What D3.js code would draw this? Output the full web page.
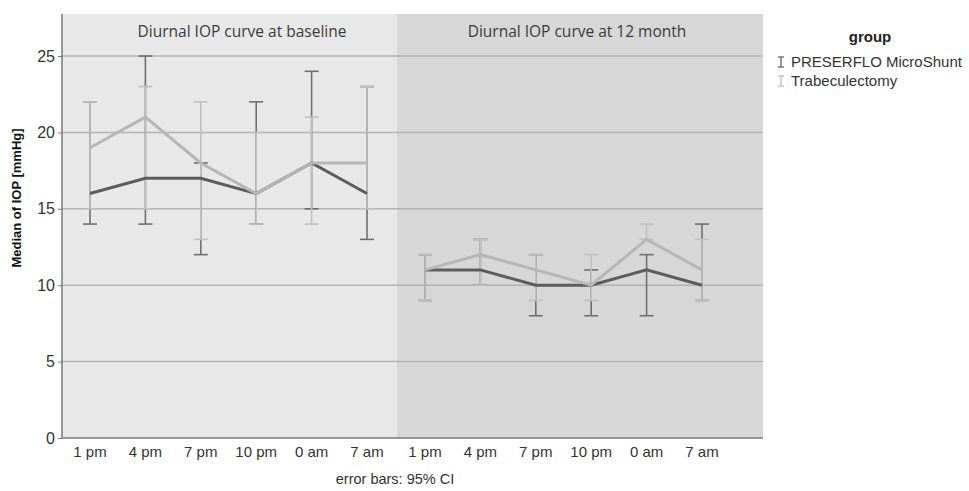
<!DOCTYPE html>
<html>
<head>
<meta charset="utf-8">
<script src="https://cdn.jsdelivr.net/npm/d3@7"></script>
<style>
  body { margin: 0; background: #ffffff; }
  svg { display: block; }
</style>
</head>
<body>
<svg id="chart" width="969" height="491"></svg>
<script>
// ---------- data ----------
const timepoints = ["1 pm", "4 pm", "7 pm", "10 pm", "0 am", "7 am"];
const panelTitles = ["Diurnal IOP curve at baseline", "Diurnal IOP curve at 12 month"];
const groups = ["PRESERFLO MicroShunt", "Trabeculectomy"];
const yTicks = [0, 5, 10, 15, 20, 25];

// medians
const microBaseline = [16, 17, 17, 16, 18, 16];
const trabBaseline  = [19, 21, 18, 16, 18, 18];
const micro12m      = [11, 11, 10, 10, 11, 10];
const trab12m       = [11, 12, 11, 10, 13, 11];

// 95% CI lower / upper
const microBaselineLo = [14, 14, 12, 14, 15, 13];
const microBaselineHi = [22, 25, 18, 22, 24, 23];
const trabBaselineLo  = [15, 15, 13, 14, 14, 15];
const trabBaselineHi  = [22, 23, 22, 20, 21, 23];
const micro12mLo      = [9, 10, 8, 8, 8, 9];
const micro12mHi      = [12, 13, 12, 11, 12, 14];
const trab12mLo       = [9, 10, 9, 9, 13, 9];
const trab12mHi       = [12, 13, 12, 12, 14, 13];

// ---------- layout ----------
const svg = d3.select("#chart");
const plotLeft = 62, plotRight = 763, plotTop = 14, plotBottom = 438;
const divider = 397;
const panelBg = ["#e8e8e8", "#d7d7d7"];
const panelX = [[plotLeft, divider], [divider, plotRight]];
const colors = { dark: "#5c5c5c", light: "#b6b6b6", darkBar: "#6f6f6f", lightBar: "#c0c0c0" };
const narrowFont = "'Liberation Sans Narrow', 'Arial Narrow', 'Liberation Sans', Arial, sans-serif";

const y = d3.scaleLinear().domain([0, 27.75]).range([plotBottom, plotTop]);

const panelData = [
  { title: panelTitles[0],
    series: [
      { name: groups[0], med: microBaseline, lo: microBaselineLo, hi: microBaselineHi, line: colors.dark, bar: colors.darkBar },
      { name: groups[1], med: trabBaseline,  lo: trabBaselineLo,  hi: trabBaselineHi,  line: colors.light, bar: colors.lightBar }
    ] },
  { title: panelTitles[1],
    series: [
      { name: groups[0], med: micro12m, lo: micro12mLo, hi: micro12mHi, line: colors.dark, bar: colors.darkBar },
      { name: groups[1], med: trab12m,  lo: trab12mLo,  hi: trab12mHi,  line: colors.light, bar: colors.lightBar }
    ] }
];

const capHalf = 7;

panelData.forEach((p, i) => {
  const [x0, x1] = panelX[i];
  const x = d3.scalePoint().domain(timepoints).range([x0 + 28, x0 + 305]);
  const g = svg.append("g");

  g.append("rect").attr("x", x0).attr("y", plotTop).attr("width", x1 - x0).attr("height", plotBottom - plotTop)
    .attr("fill", panelBg[i]);

  // gridlines
  g.selectAll("line.grid").data(yTicks.filter(d => d > 0)).enter().append("line")
    .attr("x1", x0).attr("x2", x1).attr("y1", d => y(d)).attr("y2", d => y(d))
    .attr("stroke", "#b3b3b3").attr("stroke-width", 1.5);

  // panel title
  g.append("text").attr("x", x0 + 180).attr("y", 37).attr("text-anchor", "middle")
    .attr("font-family", "'Open Sans', sans-serif").attr("font-size", 15.5).attr("fill", "#3a3a3a")
    .text(p.title);

  // error bars
  p.series.forEach(s => {
    const eb = g.append("g");
    timepoints.forEach((t, k) => {
      const cx = x(t);
      eb.append("line").attr("x1", cx).attr("x2", cx).attr("y1", y(s.lo[k])).attr("y2", y(s.hi[k]))
        .attr("stroke", s.bar).attr("stroke-width", 1.6);
      [s.lo[k], s.hi[k]].forEach(v => {
        eb.append("line").attr("x1", cx - capHalf).attr("x2", cx + capHalf).attr("y1", y(v)).attr("y2", y(v))
          .attr("stroke", s.bar).attr("stroke-width", 1.6);
      });
    });
  });

  // median lines
  p.series.forEach(s => {
    const line = d3.line().x((d, k) => x(timepoints[k])).y(d => y(d));
    g.append("path").datum(s.med).attr("d", line).attr("fill", "none")
      .attr("stroke", s.line).attr("stroke-width", 3).attr("stroke-linejoin", "miter");
  });

  // x tick labels
  g.selectAll("text.xt").data(timepoints).enter().append("text")
    .attr("x", d => x(d)).attr("y", 457).attr("text-anchor", "middle")
    .attr("font-family", narrowFont)
    .attr("font-size", 15).attr("fill", "#333")
    .text(d => d);
});

// axes lines
svg.append("line").attr("x1", plotLeft).attr("x2", plotLeft).attr("y1", plotTop).attr("y2", plotBottom)
  .attr("stroke", "#7a7a7a").attr("stroke-width", 1.5);
svg.append("line").attr("x1", plotLeft).attr("x2", plotRight).attr("y1", plotBottom).attr("y2", plotBottom)
  .attr("stroke", "#7a7a7a").attr("stroke-width", 1.5);

// y axis
const yAxis = d3.axisLeft(y).tickValues(yTicks).tickSize(4).tickPadding(3).tickFormat(d3.format("d"));
const ya = svg.append("g").attr("transform", `translate(${plotLeft},0)`).call(yAxis);
ya.select(".domain").remove();
ya.selectAll(".tick line").attr("stroke", "#7a7a7a");
ya.selectAll(".tick text")
  .attr("font-family", narrowFont)
  .attr("font-size", 16).attr("fill", "#333");

// y title
svg.append("text").attr("transform", "translate(21,198) rotate(-90)").attr("text-anchor", "middle")
  .attr("font-family", "'Liberation Sans', Arial, sans-serif").attr("font-weight", "bold")
  .attr("font-size", 13).attr("fill", "#111").text("Median of IOP [mmHg]");

// footnote
svg.append("text").attr("x", 395).attr("y", 484).attr("text-anchor", "middle")
  .attr("font-family", narrowFont)
  .attr("font-size", 14.5).attr("fill", "#333").text("error bars: 95% CI");

// legend
const lg = svg.append("g");
lg.append("text").attr("x", 870).attr("y", 42).attr("text-anchor", "middle")
  .attr("font-family", "'Liberation Sans', Arial, sans-serif").attr("font-weight", "bold")
  .attr("font-size", 15).attr("fill", "#222").text("group");
const legendColors = [colors.darkBar, colors.lightBar];
groups.forEach((name, i) => {
  const cy = 62 + i * 19;
  const ix = 781;
  lg.append("line").attr("x1", ix).attr("x2", ix).attr("y1", cy - 5).attr("y2", cy + 5)
    .attr("stroke", legendColors[i]).attr("stroke-width", 1.4);
  [cy - 5, cy + 5].forEach(v => lg.append("line").attr("x1", ix - 3).attr("x2", ix + 3).attr("y1", v).attr("y2", v)
    .attr("stroke", legendColors[i]).attr("stroke-width", 1.4));
  lg.append("text").attr("x", 791).attr("y", cy + 5)
    .attr("font-family", "'Liberation Sans', Arial, sans-serif").attr("font-size", 15).attr("fill", "#333")
    .text(name);
});
</script>
</body>
</html>
